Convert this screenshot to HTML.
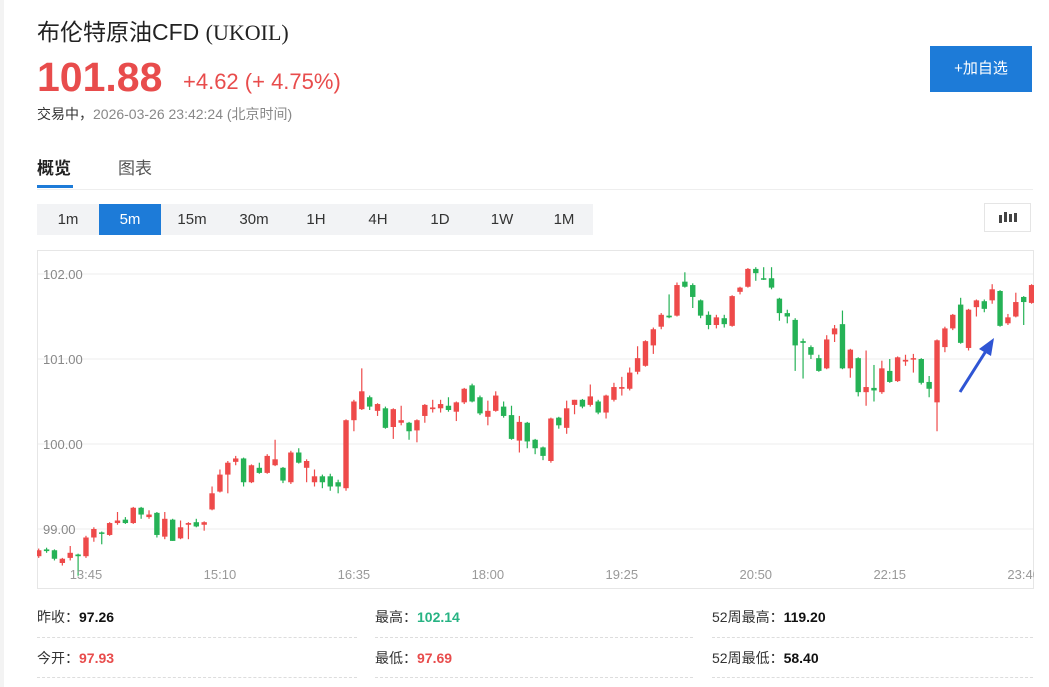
<!DOCTYPE html>
<html><head><meta charset="utf-8">
<style>
body{margin:0;width:1049px;height:687px;background:#fff;position:relative;overflow:hidden;font-family:"Liberation Sans","Noto Sans CJK SC",sans-serif;}
.a{position:absolute;white-space:nowrap;}
.pb{position:absolute;top:204px;height:31px;line-height:31px;text-align:center;font-size:15px;color:#333;}
.sep{position:absolute;height:0;border-top:1px dashed #ddd;}
.st{position:absolute;font-size:14px;color:#333;}
.st b{color:#111;}
</style></head><body>
<div class="a" style="left:0;top:0;width:4px;height:687px;background:#f3f3f3"></div>
<div class="a" style="left:37px;top:13px;font-size:23px;color:#222">布伦特原油CFD <span style="font-family:'Liberation Serif',serif;font-size:22px">(UKOIL)</span></div>
<div class="a" style="left:37px;top:54px;font-size:41px;font-weight:bold;color:#e84c4c">101.88</div>
<div class="a" style="left:183px;top:69px;font-size:22px;color:#e84c4c">+4.62 (+ 4.75%)</div>
<div class="a" style="left:37px;top:104px;font-size:14px;color:#333">交易中，<span style="color:#888">2026-03-26 23:42:24 (北京时间)</span></div>
<div class="a" style="left:930px;top:46px;width:102px;height:46px;line-height:46px;text-align:center;background:#1d7bd8;color:#fff;font-size:15px">+加自选</div>
<div class="a" style="left:37px;top:154px;font-size:17px;font-weight:bold;color:#222">概览</div>
<div class="a" style="left:37px;top:185px;width:36px;height:3px;background:#1d7bd8"></div>
<div class="a" style="left:118px;top:154px;font-size:17px;color:#555">图表</div>
<div class="a" style="left:37px;top:189px;width:996px;height:1px;background:#eee"></div>
<div class="a" style="left:37px;top:204px;width:556px;height:31px;background:#f2f3f5"></div>
<div class="pb" style="left:37px;width:62px">1m</div>
<div class="pb" style="left:99px;width:62px;background:#1d7bd8;color:#fff">5m</div>
<div class="pb" style="left:161px;width:62px">15m</div>
<div class="pb" style="left:223px;width:62px">30m</div>
<div class="pb" style="left:285px;width:62px">1H</div>
<div class="pb" style="left:347px;width:62px">4H</div>
<div class="pb" style="left:409px;width:62px">1D</div>
<div class="pb" style="left:471px;width:62px">1W</div>
<div class="pb" style="left:533px;width:62px">1M</div>
<div class="a" style="left:984px;top:203px;width:47px;height:29px;border:1px solid #e5e5e5;box-sizing:border-box">
<svg width="47" height="29"><g fill="#444"><rect x="14" y="11" width="3" height="8"/><rect x="19" y="8" width="3" height="10"/><rect x="24" y="10" width="3" height="8"/><rect x="29" y="9" width="3" height="9"/></g></svg></div>

<svg id="chart" class="a" style="left:37px;top:250px;overflow:hidden" width="997" height="339" xmlns="http://www.w3.org/2000/svg">
<rect x="0.5" y="0.5" width="996" height="338" fill="#fff" stroke="#e6e6e6"/>
<g id="grid"></g><g id="candles"></g><g id="xlab"></g>
</svg>
<svg class="a" style="left:950px;top:330px" width="60" height="70">
<line x1="10" y1="62" x2="36" y2="21" stroke="#2f55d4" stroke-width="3"/>
<polygon points="44,8 29,19 41,26" fill="#2f55d4"/>
</svg>

<div class="st" style="left:37px;top:607px">昨收：<b>97.26</b></div>
<div class="st" style="left:375px;top:607px">最高：<b style="color:#27b383">102.14</b></div>
<div class="st" style="left:712px;top:607px">52周最高：<b>119.20</b></div>
<div class="st" style="left:37px;top:648px">今开：<b style="color:#e84c4c">97.93</b></div>
<div class="st" style="left:375px;top:648px">最低：<b style="color:#e84c4c">97.69</b></div>
<div class="st" style="left:712px;top:648px">52周最低：<b>58.40</b></div>
<div class="sep" style="left:37px;top:637px;width:320px"></div>
<div class="sep" style="left:375px;top:637px;width:318px"></div>
<div class="sep" style="left:712px;top:637px;width:321px"></div>
<div class="sep" style="left:37px;top:677px;width:320px"></div>
<div class="sep" style="left:375px;top:677px;width:318px"></div>
<div class="sep" style="left:712px;top:677px;width:321px"></div>

<script>
const opens=[98.68,98.76,98.75,98.60,98.66,98.70,98.68,98.90,98.96,98.93,99.07,99.11,99.07,99.25,99.14,99.19,98.91,99.11,98.89,99.05,99.08,99.05,99.23,99.44,99.64,99.79,99.83,99.55,99.72,99.66,99.75,99.72,99.55,99.90,99.72,99.55,99.62,99.62,99.55,99.48,100.28,100.41,100.55,100.39,100.42,100.20,100.25,100.25,100.16,100.33,100.41,100.42,100.45,100.38,100.49,100.69,100.55,100.32,100.39,100.44,100.34,100.04,100.25,100.05,99.96,99.80,100.31,100.19,100.46,100.52,100.46,100.50,100.37,100.52,100.65,100.65,100.85,100.92,101.16,101.38,101.51,101.51,101.91,101.87,101.69,101.52,101.40,101.48,101.39,101.79,101.85,102.06,101.95,101.95,101.71,101.54,101.46,101.21,101.14,101.01,100.89,101.29,101.41,100.89,101.01,100.61,100.66,100.61,100.86,100.74,100.97,101.00,101.00,100.73,100.49,101.14,101.36,101.64,101.13,101.61,101.68,101.69,101.80,101.42,101.50,101.73,101.66];
const closes=[98.75,98.74,98.65,98.65,98.72,98.68,98.90,99.00,98.95,99.07,99.10,99.07,99.25,99.17,99.17,98.93,99.12,98.86,99.02,99.07,99.03,99.08,99.42,99.64,99.78,99.83,99.55,99.75,99.66,99.86,99.82,99.57,99.90,99.78,99.80,99.62,99.55,99.50,99.50,100.28,100.50,100.62,100.44,100.47,100.19,100.41,100.28,100.15,100.28,100.46,100.43,100.47,100.40,100.49,100.65,100.50,100.36,100.39,100.57,100.33,100.06,100.26,100.03,99.95,99.86,100.30,100.22,100.42,100.52,100.44,100.56,100.37,100.57,100.67,100.67,100.84,101.01,101.21,101.35,101.52,101.49,101.87,101.85,101.73,101.51,101.40,101.49,101.41,101.74,101.84,102.06,102.01,101.94,101.84,101.54,101.50,101.16,101.19,101.05,100.86,101.23,101.36,100.89,101.11,100.61,100.67,100.63,100.89,100.73,101.02,100.99,101.01,100.72,100.65,101.22,101.36,101.52,101.19,101.58,101.69,101.59,101.82,101.39,101.49,101.67,101.67,101.87];
const highs=[98.77,98.78,98.76,98.66,98.80,98.71,98.92,99.02,98.97,99.08,99.20,99.14,99.26,99.26,99.22,99.20,99.20,99.12,99.10,99.08,99.12,99.09,99.50,99.70,99.80,99.86,99.84,99.76,99.78,99.88,100.05,99.73,99.92,99.95,99.82,99.70,99.64,99.65,99.58,100.29,100.52,100.89,100.57,100.48,100.44,100.42,100.45,100.26,100.29,100.47,100.52,100.52,100.55,100.50,100.66,100.71,100.57,100.51,100.62,100.50,100.45,100.33,100.26,100.06,99.97,100.31,100.32,100.51,100.52,100.53,100.70,100.52,100.58,100.72,100.79,100.90,101.15,101.22,101.37,101.54,101.76,101.90,102.02,101.89,101.70,101.56,101.52,101.52,101.75,101.85,102.07,102.08,102.08,102.08,101.72,101.58,101.48,101.24,101.16,101.05,101.28,101.40,101.57,101.12,101.02,101.10,100.93,100.98,101.00,101.03,101.05,101.06,101.01,100.80,101.23,101.38,101.53,101.72,101.59,101.70,101.70,101.88,101.81,101.53,101.78,101.74,101.88];
const lows=[98.66,98.72,98.63,98.57,98.63,98.45,98.66,98.85,98.82,98.92,99.05,99.06,99.06,99.12,99.12,98.90,98.88,98.86,98.88,98.88,99.02,98.98,99.22,99.43,99.42,99.75,99.50,99.54,99.65,99.65,99.74,99.54,99.53,99.77,99.55,99.50,99.48,99.45,99.42,99.45,100.15,100.40,100.40,100.33,100.18,100.06,100.22,100.05,100.02,100.25,100.37,100.37,100.38,100.27,100.47,100.49,100.34,100.22,100.38,100.31,100.05,99.90,99.95,99.88,99.81,99.78,100.18,100.12,100.35,100.42,100.44,100.35,100.30,100.50,100.57,100.63,100.82,100.91,101.06,101.35,101.48,101.50,101.84,101.60,101.48,101.35,101.36,101.37,101.38,101.76,101.84,101.92,101.93,101.82,101.45,101.42,100.86,100.77,101.00,100.85,100.88,101.20,100.88,100.78,100.56,100.45,100.50,100.59,100.72,100.73,100.92,100.84,100.70,100.55,100.15,101.08,101.34,101.18,101.10,101.50,101.55,101.65,101.38,101.40,101.49,101.40,101.65];
const yTicks=[102,101,100,99];
const yTickLabels=["102.00","101.00","100.00","99.00"];
const xTickIdx=[6,23,40,57,74,91,108,125];
const xTickLabels=["13:45","15:10","16:35","18:00","19:25","20:50","22:15","23:40"];

const NS="http://www.w3.org/2000/svg";
const yS=p=>24+(102-p)*85;
const xS=i=>1.7+i*7.88;
function mk(t,a,parent){const e=document.createElementNS(NS,t);for(const k in a)e.setAttribute(k,a[k]);parent.appendChild(e);return e;}
const grid=document.getElementById('grid');
yTicks.forEach((v,k)=>{
  const l=mk('line',{x1:1,x2:996,y1:yS(v),y2:yS(v),stroke:'#ececec'},grid);
  
  
  const t=mk('text',{x:6,y:yS(v)+5,'font-size':13,fill:'#888','font-family':'Liberation Sans, sans-serif'},grid);
  t.textContent=yTickLabels[k];
  
  
});
const cg=document.getElementById('candles');
opens.forEach((o,i)=>{
  const c=closes[i],h=highs[i],lo=lows[i];
  const col=c>=o?'#ee4a4a':'#25b256';
  const x=xS(i);
  const w=mk('line',{x1:x,x2:x,y1:yS(h),y2:yS(lo),stroke:col,'stroke-width':1.2},cg);
  
  
  const top=yS(Math.max(o,c)),bh=Math.max(1.5,Math.abs(yS(o)-yS(c)));
  const r=mk('rect',{x:x-2.7,y:top,width:5.4,height:bh,fill:col},cg);
  
  
});
const xg=document.getElementById('xlab');
xTickIdx.forEach((idx,k)=>{
  const t=mk('text',{x:xS(idx),y:329,'font-size':13,fill:'#999','text-anchor':'middle','font-family':'Liberation Sans, sans-serif'},xg);
  t.textContent=xTickLabels[k];
  
  
});
</script>
</body></html>
